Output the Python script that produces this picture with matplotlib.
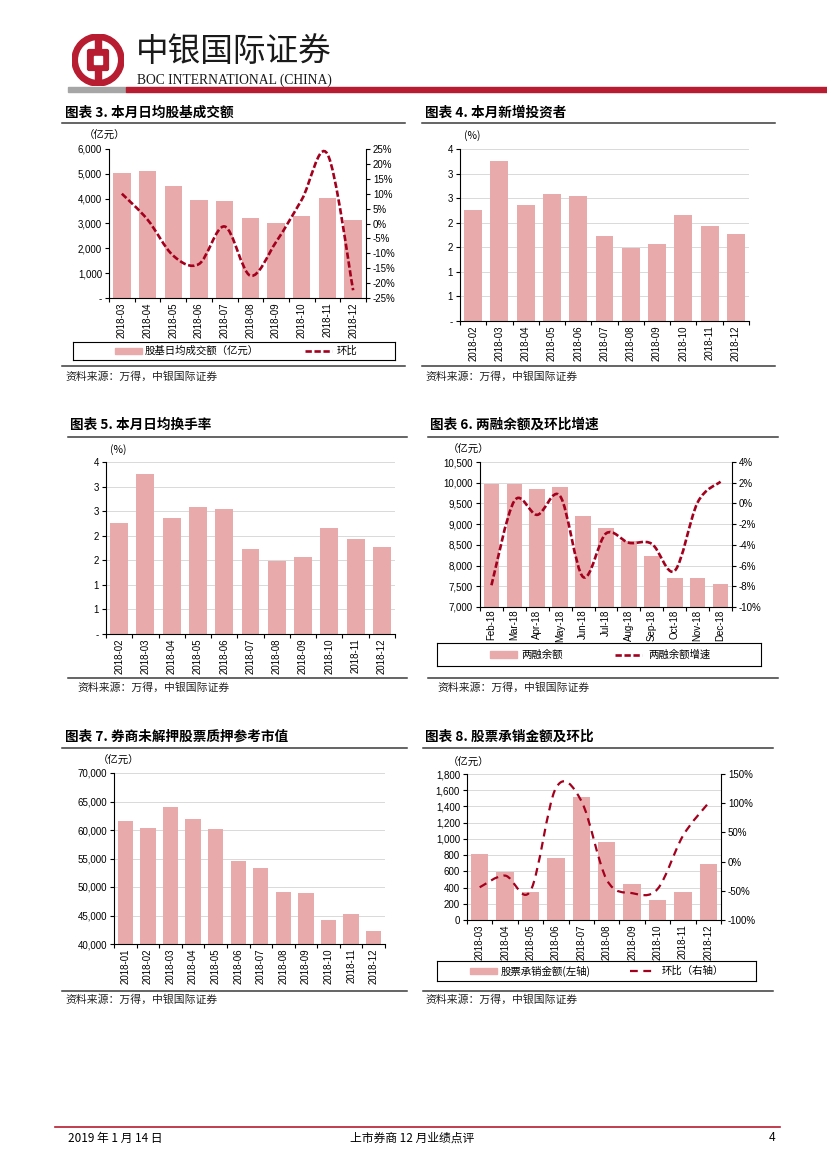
import numpy as np
import matplotlib
matplotlib.use("Agg")
import matplotlib.pyplot as plt
from matplotlib.path import Path
from matplotlib.patches import PathPatch, Rectangle, Circle, FancyBboxPatch
from matplotlib.lines import Line2D
from matplotlib.ticker import FuncFormatter, MultipleLocator

plt.rcParams['font.family'] = ['Liberation Sans', 'Noto Sans CJK SC']
plt.rcParams['font.size'] = 7
CJK = ['Noto Sans CJK SC', 'Liberation Sans']

# ---- data ----
months_3 = ['2018-03', '2018-04', '2018-05', '2018-06', '2018-07',
            '2018-08', '2018-09', '2018-10', '2018-11', '2018-12']
turnover = [5050, 5100, 4520, 3950, 3890, 3220, 3010, 3310, 4030, 3140]
turnover_mom = [10.0, 1.3, -10.8, -13.6, -1.0, -17.5, -6.2, 8.0, 23.3, -22.4]

months_4 = ['2018-02', '2018-03', '2018-04', '2018-05', '2018-06', '2018-07',
            '2018-08', '2018-09', '2018-10', '2018-11', '2018-12']
new_investors = [2.25, 3.25, 2.37, 2.58, 2.54, 1.73, 1.49, 1.57, 2.15, 1.93, 1.77]
turnover_rate = [2.25, 3.25, 2.37, 2.58, 2.54, 1.73, 1.49, 1.57, 2.15, 1.93, 1.77]

months_6 = ['Feb-18', 'Mar-18', 'Apr-18', 'May-18', 'Jun-18', 'Jul-18',
            'Aug-18', 'Sep-18', 'Oct-18', 'Nov-18', 'Dec-18']
margin_balance = [9960, 9960, 9840, 9890, 9190, 8910, 8590, 8230, 7700, 7700, 7560]
margin_mom = [-7.9, 0.25, -1.1, 0.7, -7.1, -2.9, -3.8, -3.9, -6.5, 0.1, 2.1]

months_7 = ['2018-01', '2018-02', '2018-03', '2018-04', '2018-05', '2018-06',
            '2018-07', '2018-08', '2018-09', '2018-10', '2018-11', '2018-12']
pledge_value = [61620, 60390, 64020, 61970, 60090, 54640, 53410, 49070,
                49020, 44210, 45260, 42330]

months_8 = months_3
underwriting = [813, 595, 345, 760, 1520, 957, 448, 251, 345, 686]
underwriting_mom = [-44, -24, -50, 126, 104, -31, -54, -47, 44, 100]

BAR = '#E8AAAA'
LINE = '#A3001E'
RED = '#B81C30'
GRID = '#D9D9D9'
SEP = '#3A3A3A'

W, H = 827, 1169
fig = plt.figure(figsize=(W / 100, H / 100), dpi=100)


def fx(px):
    return px / W


def fy(py):
    return 1 - py / H


def box_axes(l, t, r, b):
    return fig.add_axes([l / W, 1 - b / H, (r - l) / W, (b - t) / H])


def hline(x0, x1, y, color=SEP, lw=1.1):
    fig.add_artist(Line2D([fx(x0), fx(x1)], [fy(y), fy(y)], color=color, lw=lw))


def smooth_path(xs, ys):
    # excel-style smoothed line: catmull-rom through the data points
    pts = np.column_stack([xs, ys]).astype(float)
    n = len(pts)
    verts = [pts[0]]
    codes = [Path.MOVETO]
    for i in range(n - 1):
        p0 = pts[max(i - 1, 0)]
        p1 = pts[i]
        p2 = pts[i + 1]
        p3 = pts[min(i + 2, n - 1)]
        verts += [p1 + (p2 - p0) / 6, p2 - (p3 - p1) / 6, p2]
        codes += [Path.CURVE4] * 3
    return Path(verts, codes)


def bar_axes(box, cats, vals, ylim, step, fmt, grid=True):
    ax = box_axes(*box)
    x = np.arange(len(cats))
    ax.bar(x, vals, width=0.68, color=BAR, zorder=2)
    ax.set_xlim(-0.5, len(cats) - 0.5)
    ax.set_ylim(*ylim)
    ax.yaxis.set_major_locator(MultipleLocator(step))
    ax.yaxis.set_major_formatter(FuncFormatter(fmt))
    ax.set_xticks(x)
    ax.set_xticklabels(cats, rotation=90)
    ax.set_xticks(np.arange(-0.5, len(cats)), minor=True)
    ax.tick_params(axis='x', which='major', length=0, pad=3, labelsize=7)
    ax.tick_params(axis='x', which='minor', length=3, width=0.8)
    ax.tick_params(axis='y', length=3, width=0.8, pad=2, labelsize=7)
    for s in ['top', 'right']:
        ax.spines[s].set_visible(False)
    for s in ['left', 'bottom']:
        ax.spines[s].set_linewidth(0.8)
    if grid:
        ax.set_axisbelow(True)
        ax.yaxis.grid(True, color=GRID, lw=0.7)
    return ax


def line_twin(ax, vals, ylim, step, dashes, lw):
    ax2 = ax.twinx()
    ax2.set_ylim(*ylim)
    ax2.yaxis.set_major_locator(MultipleLocator(step))
    ax2.yaxis.set_major_formatter(FuncFormatter(lambda v, p: f'{v:.0f}%'))
    ax2.tick_params(axis='y', length=3, width=0.8, pad=2, labelsize=7)
    ax2.spines['top'].set_visible(False)
    ax2.spines['right'].set_linewidth(0.8)
    ax2.spines['left'].set_visible(False)
    ax2.spines['bottom'].set_visible(False)
    path = smooth_path(np.arange(len(vals)), vals)
    ax2.add_patch(PathPatch(path, fill=False, edgecolor=LINE, lw=lw,
                            linestyle=(0, dashes), capstyle='butt'))
    return ax2


def legend_box(box, items, dashes, lw):
    l, t, r, b = box
    lax = box_axes(l, t, r, b)
    lax.patch.set_alpha(0)
    lax.set_xlim(l, r)
    lax.set_ylim(b, t)
    lax.set_xticks([])
    lax.set_yticks([])
    for s in lax.spines.values():
        s.set_linewidth(0.8)
    yc = (t + b) / 2
    for kind, x0, x1, tx, label in items:
        if kind == 'bar':
            lax.add_patch(Rectangle((x0, yc - 3.2), x1 - x0, 6.4, color=BAR))
        else:
            lax.plot([x0, x1], [yc, yc], color=LINE, lw=lw,
                     dashes=dashes, solid_capstyle='butt', dash_capstyle='butt')
        lax.text(tx, yc, label, va='center', ha='left', fontsize=7.5,
                 family=CJK)


def section(x_title, y_title, title, sep, bottom, src_x, src_y):
    fig.text(fx(x_title), fy(y_title), title, fontsize=9.8, weight='bold',
             family=CJK, va='center', ha='left')
    hline(sep[0], sep[1], sep[2])
    hline(bottom[0], bottom[1], bottom[2])
    fig.text(fx(src_x), fy(src_y), '资料来源：万得，中银国际证券', fontsize=7.8,
             family=CJK, va='center', ha='left', color='#222222')


def unit(x, y, s):
    fig.text(fx(x), fy(y), s, fontsize=7.5, family=CJK, va='center', ha='center')


# ---- header ----
lax = box_axes(72, 34, 124, 86)
lax.set_xlim(0, 1)
lax.set_ylim(0, 1)
lax.set_aspect('equal')
lax.axis('off')
lax.add_patch(Circle((0.5, 0.5), 0.5, color=RED))
lax.add_patch(Circle((0.5, 0.5), 0.37, color='white'))
lax.add_patch(Rectangle((0.45, 0.1), 0.10, 0.8, color=RED))
lax.add_patch(FancyBboxPatch((0.33, 0.33), 0.34, 0.34,
                             boxstyle='round,pad=0.03', color=RED))
lax.add_patch(Rectangle((0.43, 0.43), 0.14, 0.14, color='white'))

fig.text(fx(136), fy(52), '中银国际证券', fontsize=23.5, family=CJK,
         va='center', ha='left', color='#1a1a1a')
fig.text(fx(137), fy(80), 'BOC INTERNATIONAL (CHINA)', fontsize=9.8,
         family=['Liberation Serif'], va='center', ha='left', color='#1a1a1a')
fig.add_artist(Rectangle((fx(68), fy(92)), fx(126) - fx(68), 4.5 / H,
                         color='#A6A6A6', transform=fig.transFigure))
fig.add_artist(Rectangle((fx(126), fy(92)), 1 - fx(126), 4.5 / H,
                         color=RED, transform=fig.transFigure))

# ---- chart 3 ----
section(65, 113, '图表 3. 本月日均股基成交额', (62, 405, 123), (62, 405, 366), 65, 377)
unit(105, 136, '（亿元）')
ax = bar_axes((109, 149, 366, 298), months_3, turnover, (0, 6000), 1000,
              lambda v, p: '-' if v == 0 else f'{v:,.0f}', grid=False)
line_twin(ax, turnover_mom, (-25, 25), 5, (2.4, 1.0), 1.9)
legend_box((73, 342, 395, 360),
           [('bar', 115, 142, 145, '股基日均成交额（亿元）'),
            ('line', 305, 332, 337, '环比')], (2.4, 1.0), 1.9)

# ---- chart 4 ----
half_fmt = lambda v, p: '-' if v == 0 else str(int(np.floor(v + 0.5)))
section(425, 113, '图表 4. 本月新增投资者', (422, 775, 123), (422, 775, 366), 425, 377)
unit(472, 136, '(%)')
bar_axes((460, 149, 749, 321), months_4, new_investors, (0, 3.5), 0.5, half_fmt)

# ---- chart 5 ----
section(70, 425, '图表 5. 本月日均换手率', (68, 407, 437), (68, 407, 678), 77, 688)
unit(118, 450, '(%)')
bar_axes((106, 462, 395, 634), months_4, turnover_rate, (0, 3.5), 0.5, half_fmt)

# ---- chart 6 ----
section(430, 425, '图表 6. 两融余额及环比增速', (428, 778, 437), (428, 778, 678), 437, 688)
unit(469, 450, '（亿元）')
ax = bar_axes((480, 462, 732, 607), months_6, margin_balance, (7000, 10500), 500,
              lambda v, p: f'{v:,.0f}')
ax.tick_params(axis='x', which='major', pad=2)
line_twin(ax, margin_mom, (-10, 4), 2, (2.4, 1.0), 1.9)
legend_box((437, 643, 761, 666),
           [('bar', 490, 517, 521, '两融余额'),
            ('line', 615, 642, 648, '两融余额增速')], (2.4, 1.0), 1.9)

# ---- chart 7 ----
section(65, 737, '图表 7. 券商未解押股票质押参考市值', (62, 407, 748), (62, 407, 991), 65, 1000)
unit(119, 761, '（亿元）')
bar_axes((114, 773, 385, 944), months_7, pledge_value, (40000, 70000), 5000,
         lambda v, p: f'{v:,.0f}')

# ---- chart 8 ----
section(425, 737, '图表 8. 股票承销金额及环比', (423, 773, 748), (423, 773, 991), 425, 1000)
unit(469, 763, '（亿元）')
ax = bar_axes((467, 774, 721, 920), months_8, underwriting, (0, 1800), 200,
              lambda v, p: f'{v:,.0f}')
line_twin(ax, underwriting_mom, (-100, 150), 50, (3.5, 2.5), 1.6)
legend_box((437, 961, 756, 981),
           [('bar', 470, 497, 501, '股票承销金额(左轴)'),
            ('line', 630, 655, 662, '环比（右轴）')], (3.5, 2.5), 1.6)

# ---- footer ----
hline(55, 780, 1127, color=RED, lw=1.2)
fig.text(fx(68), fy(1138), '2019 年 1 月 14 日', fontsize=8.5, family=CJK,
         va='center', ha='left')
fig.text(fx(412), fy(1138), '上市券商 12 月业绩点评', fontsize=8.5, family=CJK,
         va='center', ha='center')
fig.text(fx(775), fy(1138), '4', fontsize=8.5, va='center', ha='right')

fig.savefig('out.png', dpi=100, facecolor='white')
